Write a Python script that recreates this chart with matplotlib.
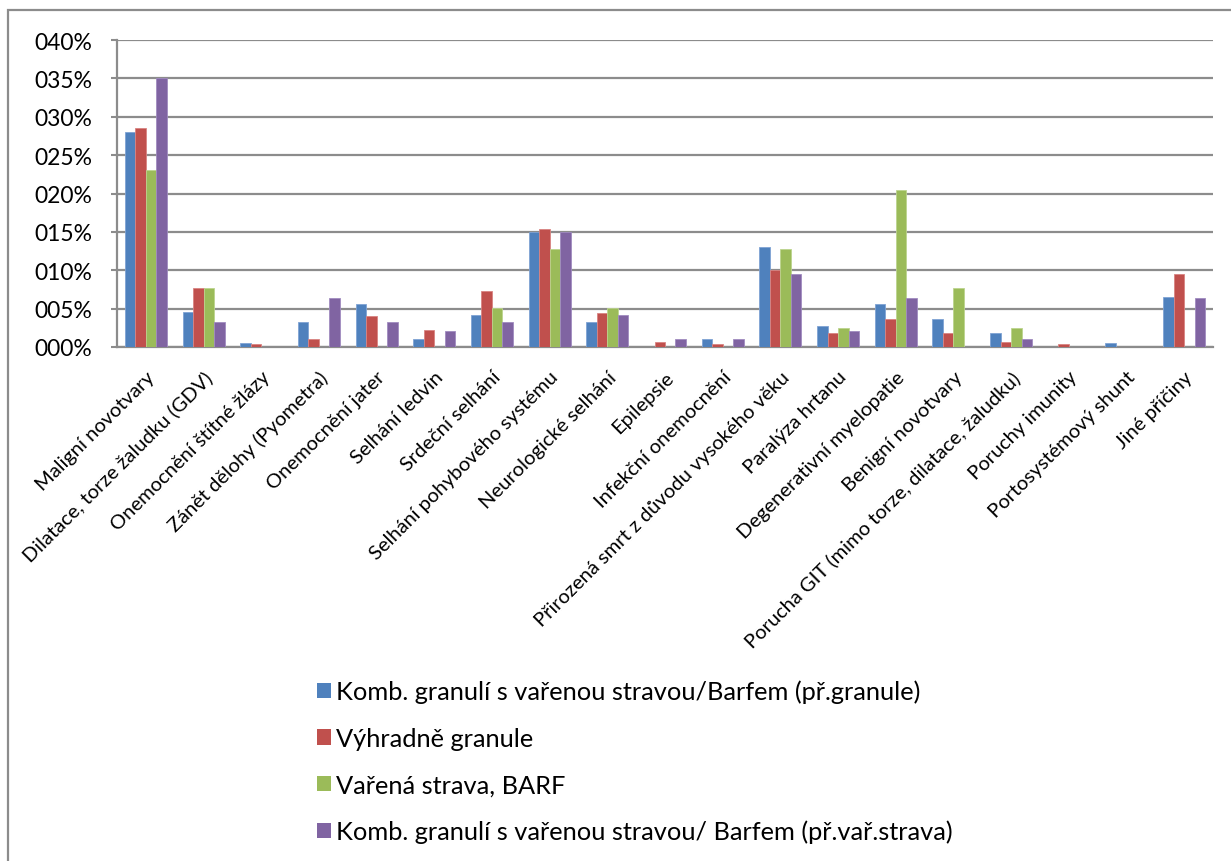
import matplotlib
matplotlib.use('Agg')
from matplotlib import pyplot as plt
from matplotlib.patches import Rectangle, Patch
import numpy as np

plt.rcParams['font.family'] = ['Lato', 'DejaVu Sans']

categories = ['Maligní novotvary', 'Dilatace, torze žaludku (GDV)', 'Onemocnění štítné žlázy',
              'Zánět dělohy (Pyometra)', 'Onemocnění jater', 'Selhání ledvin', 'Srdeční selhání',
              'Selhání pohybového systému', 'Neurologické selhání', 'Epilepsie',
              'Infekční onemocnění', 'Přirozená smrt z důvodu vysokého věku', 'Paralýza hrtanu',
              'Degenerativní myelopatie', 'Benigní novotvary',
              'Porucha GIT (mimo torze, dilatace, žaludku)', 'Poruchy imunity',
              'Portosystémový shunt', 'Jiné příčiny']

series_names = ['Komb. granulí s vařenou stravou/Barfem (př.granule)',
                'Výhradně granule',
                'Vařená strava, BARF',
                'Komb. granulí s vařenou stravou/ Barfem (př.vař.strava)']

# values in percent
komb_granule = [0.280, 0.046, 0.005, 0.033, 0.056, 0.010, 0.042, 0.150, 0.033, 0.0,
                0.010, 0.130, 0.028, 0.056, 0.037, 0.018, 0.0, 0.005, 0.065]
jen_granule = [0.285, 0.077, 0.004, 0.011, 0.040, 0.022, 0.073, 0.154, 0.044, 0.007,
               0.004, 0.100, 0.018, 0.036, 0.018, 0.007, 0.004, 0.0, 0.095]
barf = [0.230, 0.077, 0.0, 0.0, 0.0, 0.0, 0.051, 0.128, 0.051, 0.0,
        0.0, 0.128, 0.025, 0.205, 0.077, 0.025, 0.0, 0.0, 0.0]
komb_varena = [0.350, 0.032, 0.0, 0.064, 0.032, 0.021, 0.032, 0.150, 0.042, 0.011,
               0.011, 0.095, 0.021, 0.064, 0.0, 0.011, 0.0, 0.0, 0.064]

y_ticks = [0.0, 0.05, 0.10, 0.15, 0.20, 0.25, 0.30, 0.35, 0.40]
y_ticklabels = ['000%', '005%', '010%', '015%', '020%', '025%', '030%', '035%', '040%']

colors = ['#4F81BD', '#C0504D', '#9BBB59', '#8064A2']
edges = ['#7FA3D4', '#D98482', '#BCD48E', '#A08BC0']
grid_gray = '#8C8C8C'

fig = plt.figure(figsize=(12.31, 8.62), dpi=100)
ax = fig.add_axes([117/1231, 1 - 348/862, (1213 - 117)/1231, (348 - 41)/862])

x = np.arange(len(categories))
w = 1 / 5.5
data = [komb_granule, jen_granule, barf, komb_varena]
for i, vals in enumerate(data):
    ax.bar(x + (i - 1.5) * w, vals, width=w, color=colors[i], edgecolor=edges[i],
           linewidth=0.6, zorder=3)

ax.set_xlim(-0.5, len(categories) - 0.5)
ax.set_ylim(0, 0.40)
ax.set_yticks(y_ticks)
ax.set_yticklabels(y_ticklabels, fontsize=16.5)
ax.set_xticks(x)
ax.set_xticklabels(categories, rotation=45, ha='right', rotation_mode='anchor', fontsize=14.5)
ax.tick_params(axis='x', length=0, pad=15)
ax.tick_params(axis='y', length=4, color=grid_gray, width=1.5, pad=14)

ax.grid(axis='y', color=grid_gray, linewidth=1.6, zorder=0)
for s in ['top', 'right']:
    ax.spines[s].set_visible(False)
for s in ['left', 'bottom']:
    ax.spines[s].set_color(grid_gray)
    ax.spines[s].set_linewidth(1.6)

# outer chart frame
fig.patches.append(Rectangle((8/1231, -0.05), 1.1, 1 - 11/862 + 0.05, transform=fig.transFigure,
                             fill=False, edgecolor=grid_gray, linewidth=1.6))

handles = [Patch(facecolor=c) for c in colors]
fig.legend(handles, series_names, loc='upper left', bbox_to_anchor=(294/1231, 1 - 658/862),
           frameon=False, fontsize=18.3, handlelength=0.55, handleheight=0.55,
           handletextpad=0.2, labelspacing=0.92)

fig.savefig('out.png', dpi=100)
